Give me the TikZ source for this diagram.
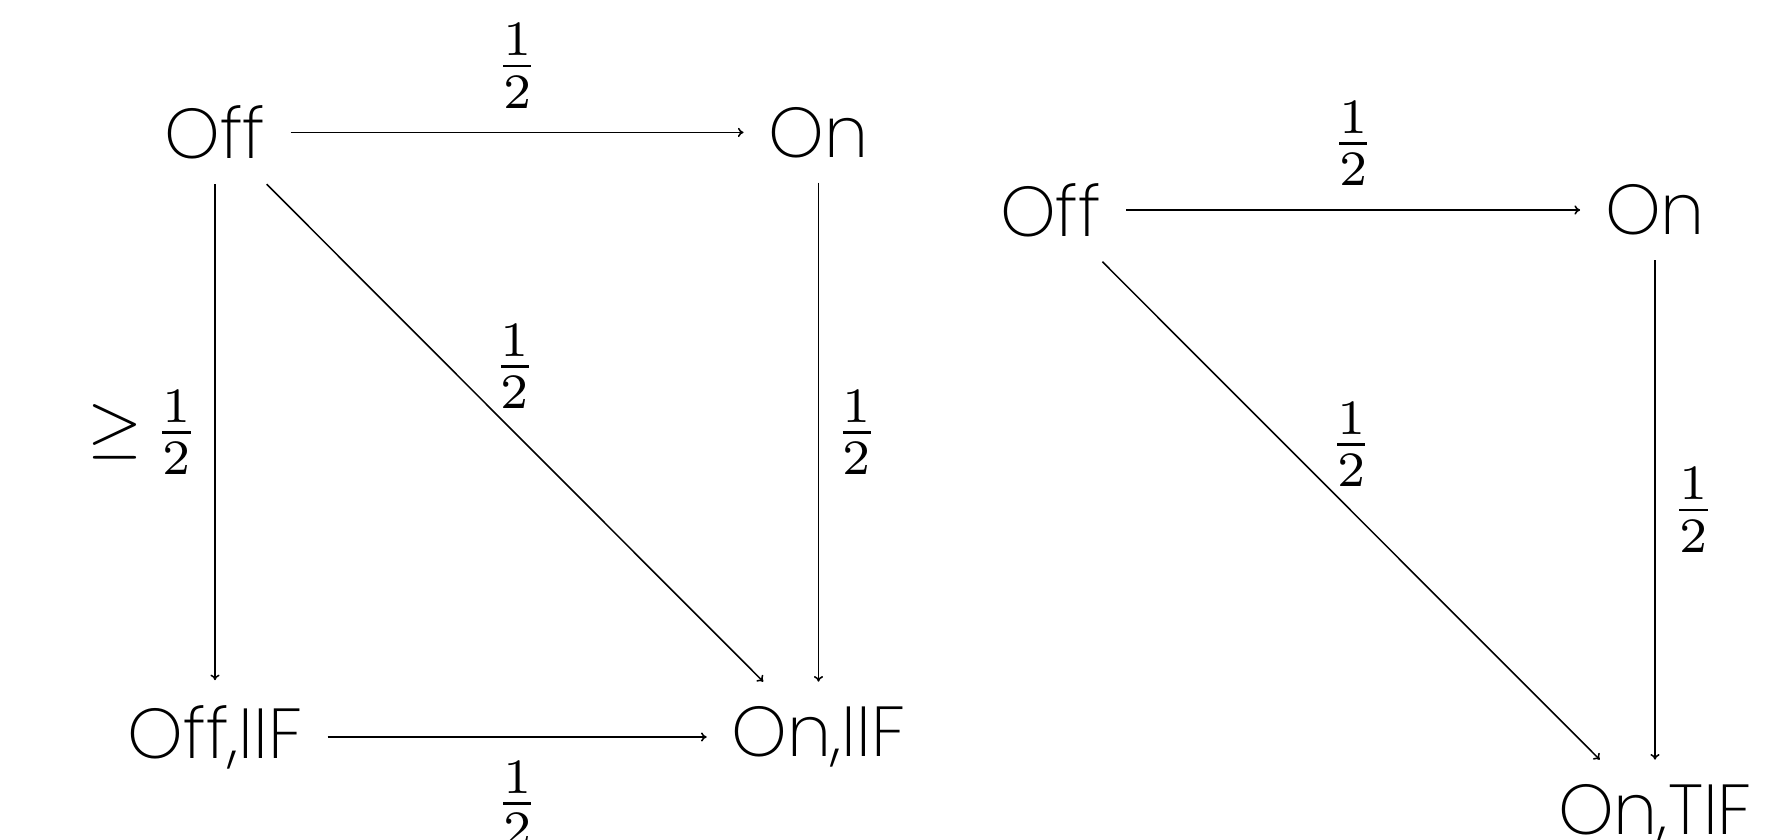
\documentclass[tikz,border=0pt]{standalone}
\usepackage[no-math]{fontspec}
\setmainfont{Poppins}[UprightFont=* ExtraLight]
\usetikzlibrary{arrows.meta}
\begin{document}
\begin{tikzpicture}[
  x=0.14144pt, y=-0.14144pt,
  state/.style={inner sep=0.3333em},
  trans/.style={-{To[length=0.8pt, width=1.3pt]}, line width=0.22pt},
  lab/.style={inner sep=0.3333em, execute at begin node={\nulldelimiterspace=0pt}}
]
\useasboundingbox (0,0) rectangle (1790,840);

% left chain: Off / On / Off,IIF / On,IIF
\node[state] (loff)    at (215,132.4)   {Off};
\node[state] (lon)     at (818.5,132.4) {On};
\node[state] (loffiif) at (215,737)     {Off,IIF};
\node[state] (loniif)  at (818.5,737)   {On,IIF};

\draw[trans] (loff) -- node[lab, above] {$\frac{1}{2}$} (lon);
\draw[trans] (loff) -- node[lab, left] {$\geq \frac{1}{2}$} (loffiif);
\draw[trans] (loff) -- node[lab, above] {$\frac{1}{2}$} (loniif);
\draw[trans] (lon) -- node[lab, right] {$\frac{1}{2}$} (loniif);
\draw[trans] (loffiif) -- node[lab, below] {$\frac{1}{2}$} (loniif);

% right chain: Off / On / On,TIF
\node[state] (roff)   at (1050.7,210) {Off};
\node[state] (ron)    at (1655,210)   {On};
\node[state] (rontif) at (1655,815)   {On,TIF};

\draw[trans] (roff) -- node[lab, above] {$\frac{1}{2}$} (ron);
\draw[trans] (roff) -- node[lab, above] {$\frac{1}{2}$} (rontif);
\draw[trans] (ron) -- node[lab, right] {$\frac{1}{2}$} (rontif);
\end{tikzpicture}
\end{document}
